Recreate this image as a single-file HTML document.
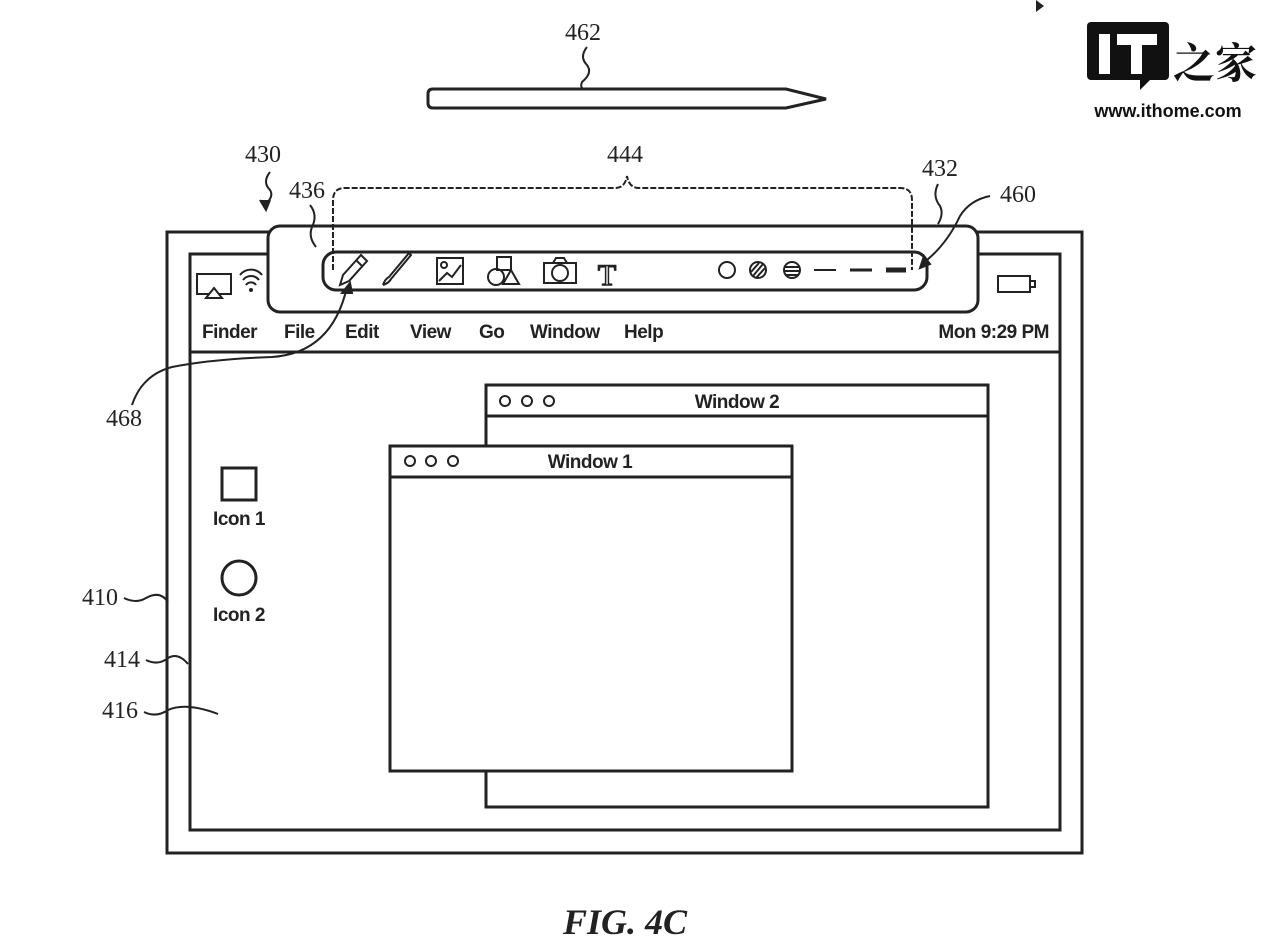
<!DOCTYPE html>
<html><head><meta charset="utf-8"><style>
html,body{margin:0;padding:0;background:#fff;width:1272px;height:950px;overflow:hidden}
svg{display:block}
.num{font-family:"Liberation Serif",serif;font-size:24px;fill:#222}
.ui{font-family:"Liberation Sans",sans-serif;font-size:19px;fill:#222;font-weight:bold;letter-spacing:-0.5px}
</style></head><body>
<svg width="1272" height="950" viewBox="0 0 1272 950" xmlns="http://www.w3.org/2000/svg" fill="none" stroke="#222" stroke-width="3">
<!-- stylus 462 -->
<text class="num" x="583" y="40" text-anchor="middle" stroke="none">462</text>
<path d="M587 47 q-8 10 0 18 q6 8 -5 17 q-2 5 1 7" stroke-width="2"/>
<path d="M433 89 L786 89 L826 99 L786 108 L433 108 q-5 0 -5 -5 L428 94 q0 -5 5 -5 Z"/>
<!-- logo -->
<path d="M1036 0 l8 6 l-8 6 z" fill="#222" stroke="none"/>
<rect x="1087" y="22" width="82" height="58" rx="4" fill="#111" stroke="none"/>
<path d="M1140 78 l0 12 l12 -12 z" fill="#111" stroke="none"/>
<rect x="1099" y="34" width="11" height="40" fill="#fff" stroke="none"/>
<rect x="1117" y="34" width="40" height="11" fill="#fff" stroke="none"/>
<rect x="1131" y="34" width="11" height="40" fill="#fff" stroke="none"/>
<text x="1215" y="78" text-anchor="middle" font-family="Noto Serif CJK SC,serif" font-size="42" font-weight="bold" fill="#111" stroke="none">之家</text>
<text x="1168" y="117" text-anchor="middle" font-family="Liberation Sans,sans-serif" font-size="18" font-weight="bold" fill="#111" stroke="none">www.ithome.com</text>
<!-- outer frames -->
<rect x="167" y="232" width="915" height="621"/>
<rect x="190" y="254" width="870" height="576"/>
<line x1="190" y1="352" x2="1060" y2="352"/>
<!-- status icons -->
<path d="M197 274 h34 v20 h-34 z" stroke-width="2"/>
<path d="M206 298 l8 -10 l8 10 z" fill="#fff" stroke-width="2"/>
<path d="M240 275 a14 14 0 0 1 22 0 M243 280 a10 10 0 0 1 16 0 M246 285 a6 6 0 0 1 10 0" stroke-width="2"/>
<circle cx="251" cy="290" r="2" fill="#222" stroke="none"/>
<rect x="998" y="276" width="32" height="16" stroke-width="2"/><rect x="1030" y="281" width="5" height="6" stroke-width="2"/>
<!-- menu -->
<g stroke="none">
<text class="ui" x="202" y="338">Finder</text>
<text class="ui" x="284" y="338">File</text>
<text class="ui" x="345" y="338">Edit</text>
<text class="ui" x="410" y="338">View</text>
<text class="ui" x="479" y="338">Go</text>
<text class="ui" x="530" y="338">Window</text>
<text class="ui" x="624" y="338">Help</text>
<text class="ui" x="1049" y="338" text-anchor="end">Mon 9:29 PM</text>
</g>
<!-- toolbar 432 -->
<rect x="268" y="226" width="710" height="86" rx="12" fill="#fff"/>
<rect x="323" y="252" width="604" height="38" rx="13" fill="#fff"/>
<!-- tools -->
<g stroke-width="2">
<path d="M340 285 l3 -10 l18 -20 l6 6 l-18 20 z M356 260 l6 6"/>
<path d="M383 285 q2 -6 6 -8 l20 -24 l2 2 l-20 24 q-2 4 -8 6"/>
<rect x="437" y="258" width="26" height="26"/><circle cx="444" cy="265" r="3"/><path d="M439 281 l8 -8 l5 4 l9 -12"/>
<circle cx="496" cy="277" r="8"/><rect x="497" y="257" width="14" height="13"/><path d="M503 284 l8 -14 l8 14 z"/>
<rect x="544" y="263" width="32" height="20"/><path d="M553 263 l3 -5 h8 l3 5"/><circle cx="560" cy="273" r="8"/>
<text x="607" y="285" text-anchor="middle" font-family="Liberation Serif,serif" font-size="30" fill="#fff" stroke="#222" stroke-width="1.5">T</text>
<circle cx="727" cy="270" r="8"/><circle cx="758" cy="270" r="8"/><path d="M753 276 l10 -12 M751 272 l8 -9 M756 278 l9 -10"/>
<circle cx="792" cy="270" r="8"/><path d="M785 267 h14 M784 271 h16 M785 275 h14"/>
<line x1="814" y1="270" x2="836" y2="270"/><line x1="850" y1="270" x2="872" y2="270" stroke-width="3"/><line x1="886" y1="270" x2="906" y2="270" stroke-width="5"/>
</g>
<!-- bracket 444 -->
<path d="M333 270 V200 q0 -12 12 -12 H615 q10 0 12 -12 q2 12 12 12 H900 q12 0 12 12 V270" stroke-width="2" stroke-dasharray="6 2"/>
<g stroke="none">
<text class="num" x="625" y="162" text-anchor="middle">444</text>
<text class="num" x="263" y="162" text-anchor="middle">430</text>
<text class="num" x="307" y="198" text-anchor="middle">436</text>
<text class="num" x="940" y="176" text-anchor="middle">432</text>
<text class="num" x="1018" y="202" text-anchor="middle">460</text>
<text class="num" x="124" y="426" text-anchor="middle">468</text>
<text class="num" x="100" y="605" text-anchor="middle">410</text>
<text class="num" x="122" y="667" text-anchor="middle">414</text>
<text class="num" x="120" y="718" text-anchor="middle">416</text>
</g>
<g stroke-width="2">
<path d="M270 172 q-8 10 0 18 q4 6 -4 14"/><path d="M260 200 l6 10 l4 -10" fill="#222"/>
<path d="M310 205 q8 10 2 22 q-4 10 4 20"/>
<path d="M938 184 q-6 12 2 22 q4 8 -2 18"/>
<path d="M990 196 q-20 4 -30 20 q-14 30 -38 48"/><path d="M920 268 l4 -12 l6 8 z" fill="#222"/>
<path d="M132 405 q10 -30 40 -38 q40 -8 100 -10 q60 -4 75 -70"/><path d="M350 283 l-8 10 l10 0 z" fill="#222"/>
<path d="M124 598 q12 6 22 0 q14 -8 22 4"/>
<path d="M146 660 q12 6 22 -2 q10 -6 20 6"/>
<path d="M144 712 q12 6 24 -2 q18 -8 50 4"/>
</g>
<!-- icons -->
<rect x="222" y="468" width="34" height="32"/>
<text class="ui" x="239" y="525" text-anchor="middle" stroke="none" font-size="18">Icon 1</text>
<circle cx="239" cy="578" r="17"/>
<text class="ui" x="239" y="621" text-anchor="middle" stroke="none" font-size="18">Icon 2</text>
<!-- window 2 -->
<rect x="486" y="385" width="502" height="422" fill="#fff"/>
<line x1="486" y1="416" x2="988" y2="416"/>
<circle cx="505" cy="401" r="5" stroke-width="2"/><circle cx="527" cy="401" r="5" stroke-width="2"/><circle cx="549" cy="401" r="5" stroke-width="2"/>
<text class="ui" x="737" y="408" text-anchor="middle" stroke="none">Window 2</text>
<!-- window 1 -->
<rect x="390" y="446" width="402" height="325" fill="#fff"/>
<line x1="390" y1="477" x2="792" y2="477"/>
<circle cx="410" cy="461" r="5" stroke-width="2"/><circle cx="431" cy="461" r="5" stroke-width="2"/><circle cx="453" cy="461" r="5" stroke-width="2"/>
<text class="ui" x="590" y="468" text-anchor="middle" stroke="none">Window 1</text>
<!-- caption -->
<text x="625" y="934" text-anchor="middle" font-family="Liberation Serif,serif" font-size="36" font-style="italic" font-weight="bold" fill="#222" stroke="none">FIG. 4C</text>
</svg>
</body></html>
